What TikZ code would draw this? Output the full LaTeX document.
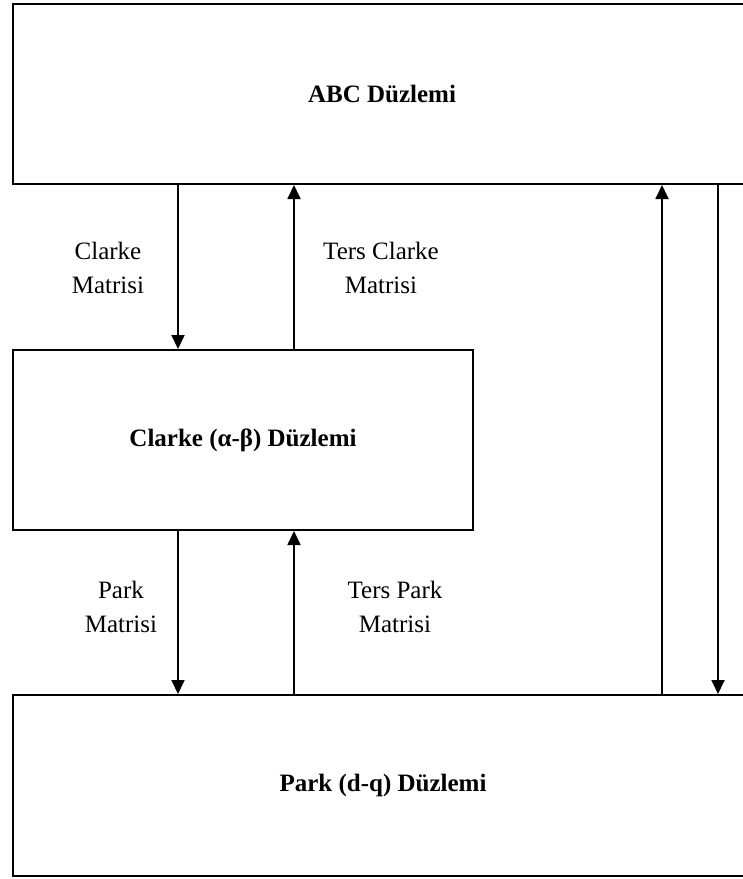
\documentclass[tikz,border=0pt]{standalone}
\usepackage{fontspec}
\setmainfont{Liberation Serif}
\usepackage{tikz}
\usetikzlibrary{positioning, arrows.meta, calc}

\begin{document}
\begin{tikzpicture}[
    x=0.5pt, y=-0.5pt,
    >={Triangle[width=6.5pt, length=7pt]},
    blok/.style={draw, rectangle, line width=1pt, minimum height=90pt, anchor=north west, align=center, font=\fontsize{12.5}{17}\selectfont\bfseries, inner sep=0pt},
    etiket/.style={align=center, font=\fontsize{12.5}{17}\selectfont, inner sep=0pt},
    ok/.style={->, line width=0.9pt},
]

\path[use as bounding box, clip] (0,0) rectangle (743,879);

% === Duzlemler ===
\node[blok, minimum width=369pt] (abc) at (12,3) {ABC Düzlemi};
\node[blok, minimum width=230pt] (clarke) at (12,349) {Clarke (α-β) Düzlemi};
\node[blok, minimum width=370pt, minimum height=90.5pt] (park) at (12,694) {Park (d-q) Düzlemi};

% --- ABC <-> Clarke ---
\draw[ok] ([xshift=83pt]clarke.north west |- abc.south) -- ([xshift=83pt]clarke.north west);
\draw[ok] ([xshift=141pt]clarke.north west) -- ([xshift=141pt]clarke.north west |- abc.south);
\node[etiket] (clarkeM) at (108,268) {Clarke\\Matrisi};
\node[etiket] (tersClarkeM) at (381,268) {Ters Clarke\\Matrisi};

% --- Clarke <-> Park ---
\draw[ok] ([xshift=83pt]clarke.south west) -- ([xshift=83pt]park.north west);
\draw[ok] ([xshift=141pt]park.north west) -- ([xshift=141pt]clarke.south west);
\node[etiket] (parkM) at (121,607) {Park\\Matrisi};
\node[etiket] (tersParkM) at (395,607) {Ters Park\\Matrisi};

% --- ABC <-> Park (dogrudan) ---
\draw[ok] ([xshift=325pt]park.north west) -- ([xshift=325pt]park.north west |- abc.south);
\draw[ok] ([xshift=353pt]park.north west |- abc.south) -- ([xshift=353pt]park.north west);

\end{tikzpicture}
\end{document}
